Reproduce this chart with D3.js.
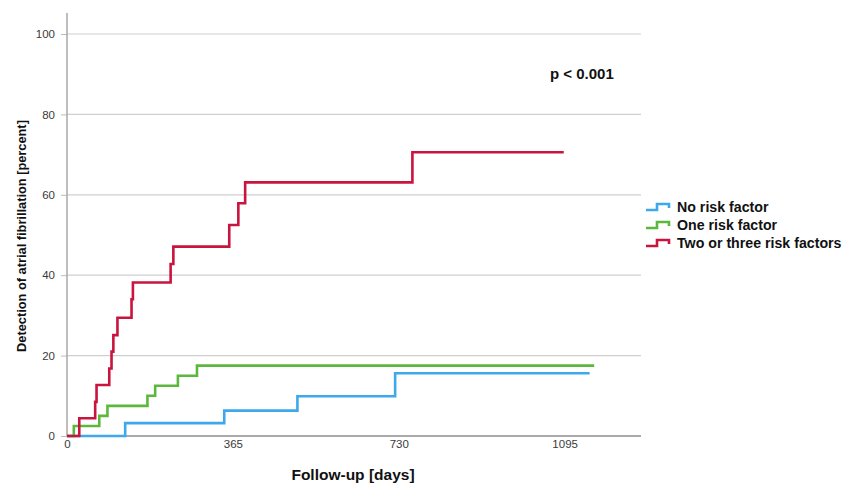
<!DOCTYPE html>
<html>
<head>
<meta charset="utf-8">
<script src="https://cdn.jsdelivr.net/npm/d3@7"></script>
<style>
  body { margin: 0; background: #fff; }
  svg { display: block; font-family: "Liberation Sans", Arial, sans-serif; }
</style>
</head>
<body>
<svg id="chart" width="862" height="486"></svg>
<script>
// ---- Data ----
const xTickValues = [0, 365, 730, 1095];
const yTickValues = [0, 20, 40, 60, 80, 100];

const seriesNames = ["No risk factor", "One risk factor", "Two or three risk factors"];
const seriesColors = ["#3ea8ec", "#5cb83c", "#c9143f"];

const noRiskDays   = [0, 128, 346, 507, 722, 1150];
const noRiskValues = [0, 3.2, 6.3, 9.9, 15.6, 15.6];

const oneRiskDays   = [0, 15, 71, 89, 177, 194, 244, 286, 1160];
const oneRiskValues = [0, 2.5, 5, 7.5, 10, 12.5, 15, 17.5, 17.5];

const twoRiskDays   = [0, 27, 62, 65, 93, 98, 102, 111, 142, 145, 228, 234, 357, 377, 392, 760, 1093];
const twoRiskValues = [0, 4.4, 8.5, 12.7, 16.8, 21, 25.1, 29.4, 34, 38.2, 42.8, 47.1, 52.5, 57.9, 63.1, 70.6, 70.6];

const pValueText = "p < 0.001";
const xTitle = "Follow-up [days]";
const yTitle = "Detection of atrial fibrillation [percent]";

// ---- Drawing ----
(function () {
const svg = d3.select("#chart");
const mLeft = 67, mRight = 641, mTop = 34, mBottom = 436;

const x = d3.scaleLinear().domain([0, 1263]).range([mLeft, mRight]);
const y = d3.scaleLinear().domain([0, 100]).range([mBottom, mTop]);

// grid lines
svg.append("g").selectAll("line")
  .data(yTickValues.filter(d => d > 0))
  .join("line")
  .attr("x1", mLeft).attr("x2", mRight)
  .attr("y1", d => y(d)).attr("y2", d => y(d))
  .attr("stroke", "#cfcfcf").attr("stroke-width", 1.2);

// y axis
const yAxis = d3.axisLeft(y).tickValues(yTickValues).tickSize(6).tickPadding(6).tickFormat(d3.format("d"));
const gy = svg.append("g").attr("transform", `translate(${mLeft},0)`).call(yAxis);
gy.select(".domain").remove();
gy.selectAll(".tick line").attr("stroke", "#bdbdbd");
gy.selectAll(".tick text").attr("fill", "#3a3a3a").style("font-size", "11.5px");
svg.append("line").attr("x1", mLeft).attr("x2", mLeft).attr("y1", 13).attr("y2", mBottom)
  .attr("stroke", "#a8a8a8").attr("stroke-width", 1.5);

// x axis
const xAxis = d3.axisBottom(x).tickValues(xTickValues).tickSize(0).tickPadding(4).tickFormat(d3.format("d"));
const gx = svg.append("g").attr("transform", `translate(0,${mBottom})`).call(xAxis);
gx.select(".domain").remove();
gx.selectAll(".tick text").attr("fill", "#3a3a3a").style("font-size", "11.5px");
svg.append("line").attr("x1", mLeft).attr("x2", mRight).attr("y1", mBottom).attr("y2", mBottom)
  .attr("stroke", "#8c8c8c").attr("stroke-width", 1.5);

// series
const series = [
  { days: noRiskDays, values: noRiskValues },
  { days: oneRiskDays, values: oneRiskValues },
  { days: twoRiskDays, values: twoRiskValues }
];
const line = d3.line().x(d => x(d[0])).y(d => y(d[1])).curve(d3.curveStepAfter);
series.forEach((s, i) => {
  svg.append("path")
    .datum(s.days.map((d, j) => [d, s.values[j]]))
    .attr("d", line)
    .attr("fill", "none")
    .attr("stroke", seriesColors[i])
    .attr("stroke-width", 2.6)
    .attr("stroke-linejoin", "miter");
});

// p value
svg.append("text").attr("x", 550).attr("y", 79)
  .style("font-size", "15px").style("font-weight", "bold").attr("fill", "#111")
  .text(pValueText);

// axis titles
svg.append("text").attr("x", 353).attr("y", 480).attr("text-anchor", "middle")
  .style("font-size", "15.5px").style("font-weight", "bold").attr("fill", "#111")
  .text(xTitle);
svg.append("text").attr("transform", "translate(26,236) rotate(-90)").attr("text-anchor", "middle")
  .style("font-size", "12.8px").style("font-weight", "bold").attr("fill", "#111")
  .text(yTitle);

// legend
const legend = svg.append("g").attr("transform", "translate(646,207)");
seriesNames.forEach((name, i) => {
  const g = legend.append("g").attr("transform", `translate(0,${i * 18})`);
  g.append("path")
    .attr("d", "M0,3 H11 V-3 H23 V1")
    .attr("fill", "none").attr("stroke", seriesColors[i]).attr("stroke-width", 2.6);
  g.append("text").attr("x", 31).attr("y", 5)
    .style("font-size", "14.2px").style("font-weight", "bold").attr("fill", "#111")
    .text(name);
});
})();
</script>
</body>
</html>
